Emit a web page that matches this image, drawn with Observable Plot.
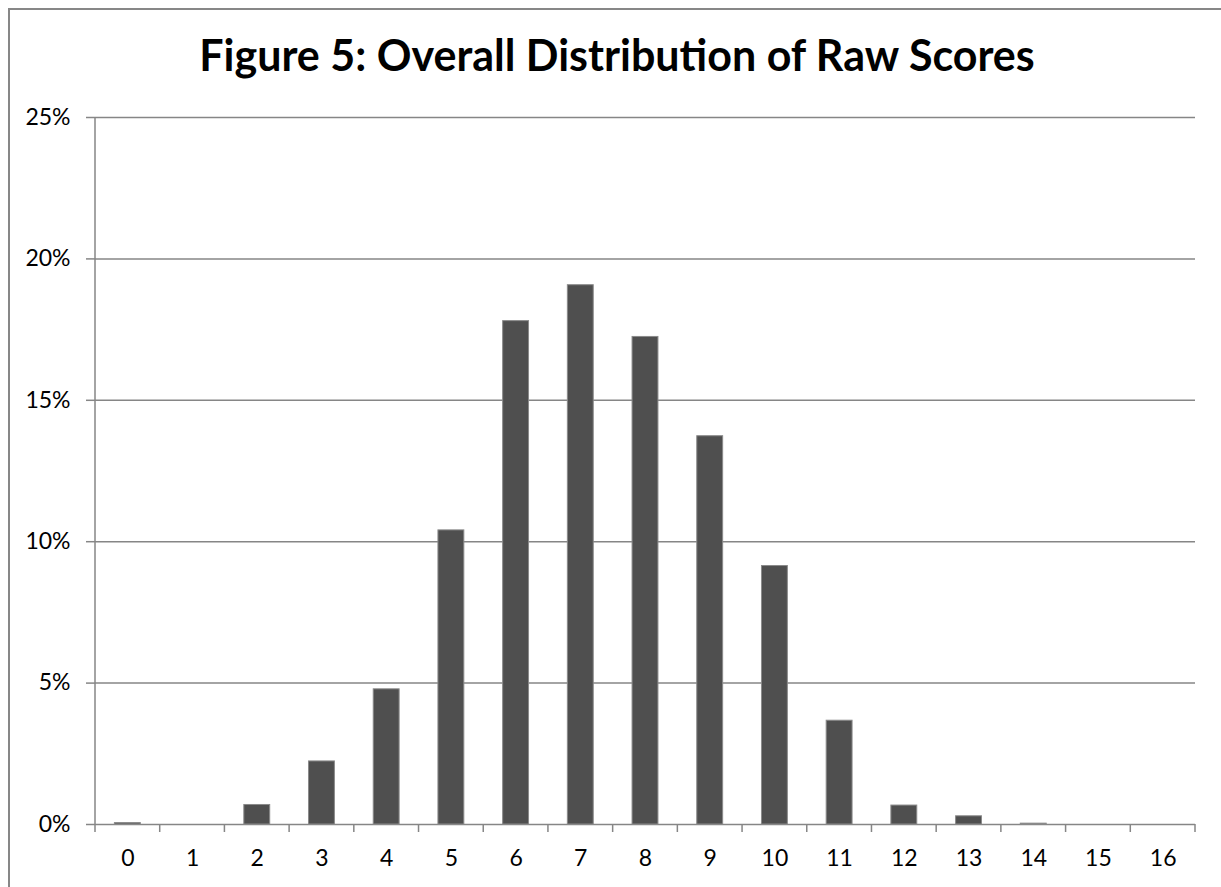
<!DOCTYPE html>
<html>
<head>
<meta charset="utf-8">
<script src="https://cdn.jsdelivr.net/npm/d3@7"></script>
<script src="https://cdn.jsdelivr.net/npm/@observablehq/plot@0.6"></script>
<style>
  html, body { margin: 0; padding: 0; background: #fff; overflow: hidden; width: 1221px; height: 887px; }
  #frame { position: absolute; left: 8px; top: 8px; width: 1240px; height: 900px;
           border-left: 2px solid #878787; border-top: 2px solid #878787; }
  #title { position: absolute; left: 13px; width: 1208px; top: 33px; line-height: 44px;
           text-align: center; font-family: Lato, "Open Sans", sans-serif; font-weight: bold; font-size: 43px; color: #000; }
  #chart { position: absolute; left: 0; top: 90px; }
</style>
</head>
<body>
<div id="frame"></div>
<div id="title">Figure 5: Overall Distribution of Raw Scores</div>
<div id="chart"></div>
<script>
// Raw score categories
const scores = ["0","1","2","3","4","5","6","7","8","9","10","11","12","13","14","15","16"];
// Share of test takers (%) per raw score
const shares = [0.05, 0, 0.69, 2.23, 4.78, 10.4, 17.8, 19.07, 17.24, 13.73, 9.14, 3.67, 0.67, 0.29, 0.03, 0, 0];
// Y-axis tick values (%)
const yTicks = [0, 5, 10, 15, 20, 25];

const data = scores.map((s, i) => ({score: s, share: shares[i]}));
const lineColor = "#868686";

function axisLines(index, scales, values, dims) {
  const x = scales.x, y = scales.y;
  const step = typeof x.step === "function" ? x.step() : scales.scales.x.step;
  const bw = typeof x.bandwidth === "function" ? x.bandwidth() : scales.scales.x.bandwidth;
  const base = y(0);
  const g = d3.create("svg:g").attr("stroke", lineColor).attr("stroke-width", 1.5);
  const edges = scores.map(s => x(s) - (step - bw) / 2);
  edges.push(x(scores[scores.length - 1]) + bw + (step - bw) / 2);
  for (const e of edges) {
    g.append("line").attr("x1", e).attr("x2", e).attr("y1", base).attr("y2", base + 8);
  }
  g.append("line").attr("x1", edges[0]).attr("x2", edges[0])
    .attr("y1", y(yTicks[yTicks.length - 1])).attr("y2", base);
  return g.node();
}

const chart = Plot.plot({
  width: 1221,
  height: 797,
  marginTop: 27,
  marginBottom: 63,
  marginLeft: 95,
  marginRight: 26,
  style: {fontFamily: "Lato, 'Open Sans', sans-serif", fontSize: "23px", color: "#000", background: "transparent"},
  x: {type: "band", domain: scores, paddingInner: 0.6, paddingOuter: 0.3, round: false},
  y: {domain: [0, 25]},
  marks: [
    Plot.ruleY(yTicks, {stroke: lineColor, strokeWidth: 1.5}),
    Plot.axisY({ticks: yTicks, tickSize: 9, tickPadding: 16, tickFormat: d => d + "%",
                stroke: lineColor, strokeWidth: 1.5, fill: "#000", fontSize: 23, label: null}),
    Plot.axisX({tickSize: 0, tickPadding: 25, fill: "#000", fontSize: 23, label: null}),
    Plot.barY(data, {x: "score", y: "share", fill: "#4f4f4f", stroke: "#8a8a8a", strokeWidth: 1}),
    axisLines
  ]
});
document.getElementById("chart").appendChild(chart);
</script>
</body>
</html>
